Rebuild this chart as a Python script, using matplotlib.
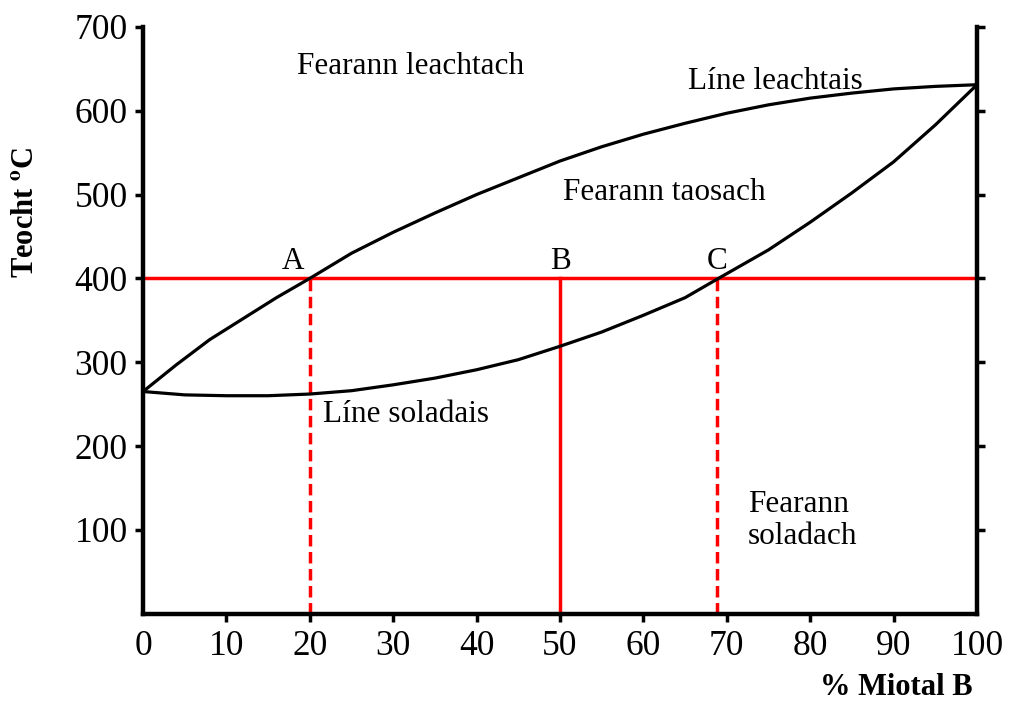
import matplotlib
matplotlib.use("Agg")
import matplotlib.pyplot as plt

plt.rcParams["font.family"] = ["Liberation Serif", "DejaVu Serif"]
plt.rcParams["mathtext.fontset"] = "stix"

# liquidus (Líne leachtais) and solidus (Líne soladais)
liq_x = [0, 4, 8, 12, 16, 20, 25, 30, 35, 40, 45, 50, 55, 60, 65, 70, 75, 80, 85, 90, 95, 100]
liq_y = [265, 297, 327, 352, 377, 400, 430, 455, 478, 500, 520, 540, 557, 572, 585, 597, 607, 615, 621, 626, 629, 631]
sol_x = [0, 5, 10, 15, 20, 25, 30, 35, 40, 45, 50, 55, 60, 65, 69, 75, 80, 85, 90, 95, 100]
sol_y = [265, 261, 260, 260, 262, 266, 273, 281, 291, 303, 319, 336, 356, 377, 400, 434, 467, 502, 539, 583, 631]

tie_temp = 400
point_x = [20, 50, 68.8]
point_names = ["A", "B", "C"]
point_styles = ["dashed", "solid", "dashed"]

x_ticks = [0, 10, 20, 30, 40, 50, 60, 70, 80, 90, 100]
y_ticks = [100, 200, 300, 400, 500, 600, 700]

fig = plt.figure(figsize=(10.22, 7.07), dpi=100)
ax = fig.add_axes([0.140, 0.132, 0.816, 0.830])

red = "#ff0000"
ax.plot(liq_x, liq_y, color="black", lw=2.3, zorder=3)
ax.plot(sol_x, sol_y, color="black", lw=2.3, zorder=3)
ax.axhline(tie_temp, color=red, lw=2.5, zorder=2)
for px, style in zip(point_x, point_styles):
    line, = ax.plot([px, px], [0, tie_temp], color=red, lw=2.5, zorder=2)
    if style == "dashed":
        line.set_dashes([3.3, 1.6])

for px, name in zip(point_x, point_names):
    ax.text(px - 2 if name == "A" else px, 420, name, fontsize=22.5, ha="center", va="center")

fs = 22.5
ax.text(18.5, 653, "Fearann leachtach", fontsize=fs, va="center")
ax.text(65.3, 635, "Líne leachtais", fontsize=fs, va="center")
ax.text(50.4, 503, "Fearann taosach", fontsize=fs, va="center")
ax.text(21.6, 237, "Líne soladais", fontsize=fs, va="center")
ax.text(72.5, 111, "Fearann\nsoladach", fontsize=fs, va="center", linespacing=1.12)

ax.set_xlim(0, 100)
ax.set_ylim(0, 700)
ax.set_xticks(x_ticks)
ax.set_yticks(y_ticks)
ax.spines["top"].set_visible(False)
for s in ["left", "right", "bottom"]:
    ax.spines[s].set_linewidth(3.2)
ax.tick_params(axis="both", direction="out", length=6, width=2.5, labelsize=25.5)
ax.tick_params(axis="y", right=True, labelright=False, pad=5)
ax.tick_params(axis="x", pad=6)
xt = ax.xaxis.get_major_ticks()
xt[0].tick1line.set_visible(False)
xt[-1].tick1line.set_visible(False)

fig.text(0.025, 0.70, "Teocht $^{\\mathbf{o}}$C", rotation=90, fontsize=22,
         fontweight="bold", ha="center", va="center")
fig.text(0.877, 0.027, "% Miotal B", fontsize=22, fontweight="bold",
         ha="center", va="center")

fig.savefig("out.png", dpi=100, facecolor="white")
